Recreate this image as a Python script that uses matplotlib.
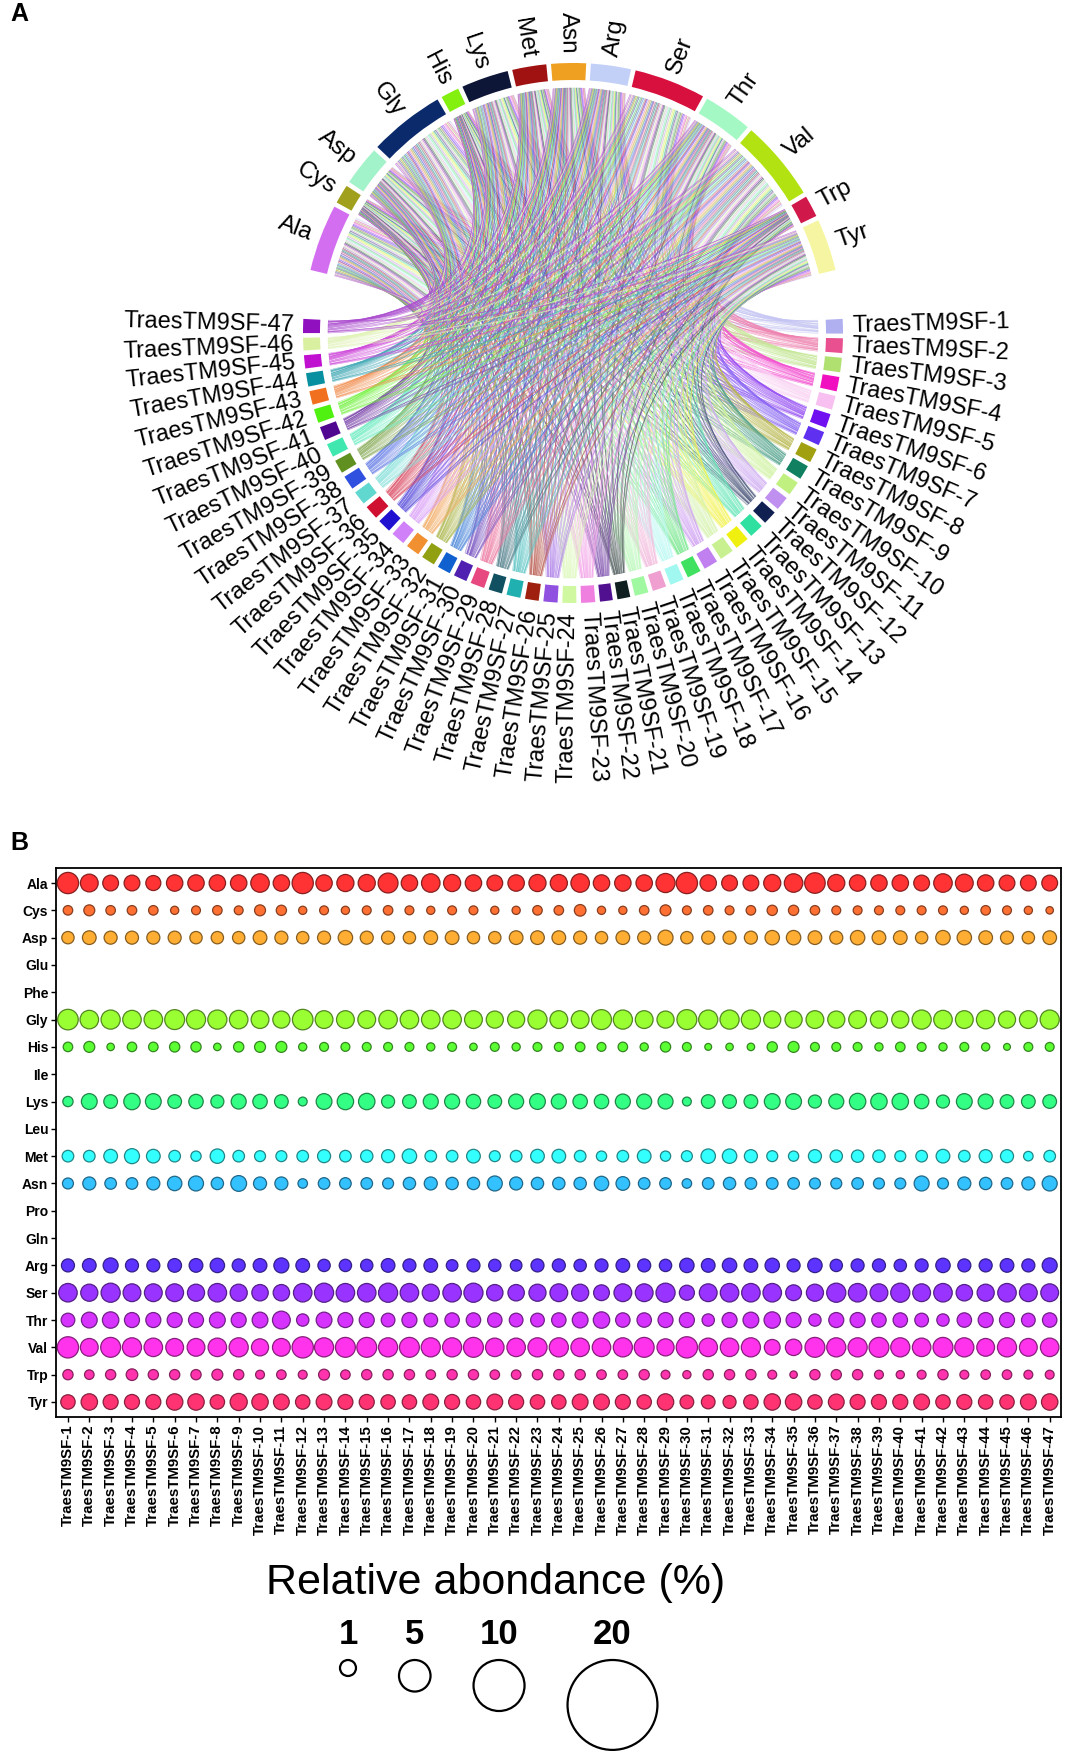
import numpy as np
import matplotlib
matplotlib.use("Agg")
import matplotlib.pyplot as plt
from matplotlib.path import Path
from matplotlib.patches import PathPatch, Wedge, Circle
from matplotlib.collections import PatchCollection
from matplotlib.colors import hsv_to_rgb, to_rgb

plt.rcParams['font.family'] = ['Liberation Sans', 'DejaVu Sans']

# ---------------- data ----------------
genes = [f"TraesTM9SF-{i}" for i in range(1, 48)]
amino_acids = ["Ala", "Cys", "Asp", "Glu", "Phe", "Gly", "His", "Ile", "Lys", "Leu",
               "Met", "Asn", "Pro", "Gln", "Arg", "Ser", "Thr", "Val", "Trp", "Tyr"]

ala = [15.4,10.8,8.5,8.5,7.7,9.2,9.2,9.2,9.2,11.7,9.2,15.4,9.2,10.0,10.0,13.5,9.2,11.7,10.0,9.2,8.5,9.2,
       10.0,10.0,11.7,9.2,9.2,9.2,12.5,15.4,9.2,8.5,8.5,10.0,11.7,14.4,10.0,9.2,9.2,9.2,8.5,11.7,10.8,9.2,8.5,8.5,8.5]
cys = [3.1,4.1,3.1,3.1,3.1,2.3,2.7,3.1,2.7,4.1,3.6,2.3,2.7,2.3,2.7,3.1,2.7,2.3,2.7,2.7,2.3,2.3,
       3.1,3.1,4.6,2.3,2.3,3.1,4.1,2.7,3.1,2.7,3.1,3.6,3.6,3.1,2.7,2.7,2.7,2.7,2.7,2.7,2.3,3.1,2.7,2.3,1.9]
asp = [5.2,6.4,5.8,5.8,5.8,5.8,5.2,5.2,5.2,6.4,5.8,5.2,5.8,7.1,5.8,5.8,5.2,6.4,6.4,5.2,5.2,6.4,
       6.4,6.4,5.8,5.2,6.4,5.8,7.7,5.2,5.8,5.8,5.8,7.1,7.1,6.4,5.8,7.1,6.4,6.4,5.2,7.1,7.1,6.4,5.8,5.2,6.4]
gly = [14.4,11.7,12.5,11.7,11.7,13.5,12.5,12.5,11.7,10.8,10.0,14.4,10.8,10.8,10.8,11.7,11.7,11.7,11.7,10.8,10.0,10.0,
       12.5,10.8,10.8,13.5,12.5,10.8,10.0,13.5,12.5,12.5,12.5,10.0,10.0,10.8,10.0,10.8,10.0,10.0,12.5,11.7,10.8,11.7,10.0,10.8,12.5]
his = [3.1,4.1,1.9,3.1,3.1,3.6,3.6,1.9,3.6,4.1,4.1,2.3,2.7,2.7,2.7,2.7,2.7,2.3,2.7,1.9,2.7,2.3,
       2.7,2.7,3.1,2.7,3.1,2.3,3.6,2.7,1.6,1.9,1.9,3.6,4.1,2.7,2.7,2.7,2.3,3.1,2.7,2.3,2.7,2.3,1.6,2.7,2.7]
lys = [3.6,8.5,6.4,9.2,8.5,6.4,7.1,5.8,7.7,7.1,6.4,2.7,8.5,9.2,9.2,5.8,6.4,7.7,7.7,7.1,6.4,7.7,
       8.5,7.7,7.1,7.1,7.7,7.7,7.7,2.7,6.4,6.4,6.4,8.5,8.5,5.8,7.7,9.2,9.2,9.2,7.1,5.8,8.5,7.7,6.4,6.4,6.4]
met = [4.6,4.6,6.4,7.7,6.4,4.6,3.6,7.1,4.6,4.1,4.1,4.6,5.8,4.6,5.2,5.8,7.1,4.6,4.6,6.4,4.1,4.6,
       6.4,6.4,4.6,3.6,4.6,6.4,3.6,4.1,7.1,7.1,5.8,4.1,3.6,5.8,5.2,5.2,5.2,4.1,4.6,6.4,4.6,5.8,5.8,3.1,4.6]
asn = [4.1,5.8,4.6,4.6,5.8,7.1,7.7,5.2,8.5,5.8,5.8,3.1,4.6,4.6,4.6,4.1,5.2,5.8,5.2,5.2,7.7,5.8,
       5.2,5.2,5.2,7.1,6.4,4.6,4.6,3.1,4.6,5.2,4.6,4.6,4.6,4.1,4.1,4.6,4.1,4.1,7.7,4.1,5.8,5.2,4.6,5.8,7.7]
arg = [5.8,6.4,7.7,5.8,5.8,6.4,6.4,7.1,5.8,6.4,7.7,6.4,5.2,5.2,5.2,6.4,5.8,6.4,4.6,5.8,5.2,4.6,
       5.8,5.8,5.2,5.8,6.4,5.8,5.2,7.1,6.4,7.1,6.4,7.1,5.8,7.1,5.2,5.8,5.8,5.2,5.8,7.1,5.8,5.8,6.4,5.8,7.7]
ser = [11.7,10.0,12.5,10.8,10.8,10.8,10.0,11.7,10.0,9.2,9.2,11.7,12.5,11.7,11.7,12.5,11.7,10.0,11.7,12.5,9.2,9.2,
       10.0,10.8,10.0,8.5,10.8,10.8,12.5,7.7,10.8,11.7,11.7,11.7,8.5,10.0,12.5,11.7,10.8,12.5,10.8,11.7,9.2,10.0,11.7,10.8,10.8]
thr = [6.4,8.5,9.2,7.7,7.7,7.7,7.7,8.5,7.7,8.5,10.8,5.2,8.5,7.7,7.7,6.4,7.7,6.4,7.1,7.1,7.1,6.4,
       6.4,7.1,8.5,9.2,7.1,7.1,7.7,7.7,5.2,7.7,8.5,9.2,7.7,5.2,7.7,7.7,7.1,7.1,6.4,5.2,7.1,7.7,7.7,6.4,7.1]
val = [15.4,10.8,13.5,12.5,11.7,10.8,10.8,11.7,12.5,10.0,10.8,15.4,12.5,13.5,13.5,12.5,13.5,12.5,12.5,13.5,11.7,11.7,
       12.5,12.5,11.7,11.7,12.5,13.5,10.0,15.4,11.7,11.7,12.5,8.5,9.2,13.5,12.5,12.5,13.5,12.5,11.7,13.5,12.5,10.8,12.5,10.8,11.7]
trp = [3.6,3.1,3.6,4.6,3.6,3.6,3.6,4.1,3.6,2.7,3.1,2.7,4.1,3.1,3.6,3.6,3.6,3.1,3.6,3.6,3.1,3.1,
       3.6,3.6,3.6,3.1,3.1,3.6,2.7,2.3,3.6,3.6,3.6,2.7,1.9,3.6,3.6,3.6,2.7,2.3,2.7,3.6,2.7,3.1,3.1,2.7,2.7]
tyr = [7.1,9.2,7.7,7.7,7.7,9.2,9.2,7.1,10.0,9.2,8.5,7.1,8.5,7.7,7.7,7.1,7.1,8.5,7.7,7.1,8.5,7.7,
       7.1,7.1,8.5,8.5,7.7,7.1,9.2,6.4,6.4,5.8,7.1,9.2,9.2,7.1,8.5,7.7,7.7,7.7,8.5,7.1,7.7,7.1,7.1,8.5,9.2]

values = {"Ala": ala, "Cys": cys, "Asp": asp, "Glu": None, "Phe": None, "Gly": gly,
          "His": his, "Ile": None, "Lys": lys, "Leu": None, "Met": met, "Asn": asn,
          "Pro": None, "Gln": None, "Arg": arg, "Ser": ser, "Thr": thr, "Val": val,
          "Trp": trp, "Tyr": tyr}

chord_aa = [a for a in amino_acids if values[a] is not None]
aa_sector_colors = {"Ala": "#D46EF0", "Cys": "#A0A01C", "Asp": "#A2F2CA", "Gly": "#0B2A6C",
                    "His": "#84F010", "Lys": "#0E1638", "Met": "#A01212", "Asn": "#F0A020",
                    "Arg": "#C2D0F8", "Ser": "#D8103E", "Thr": "#A4F8C4", "Val": "#B2E212",
                    "Trp": "#D0184A", "Tyr": "#F6F6A2"}
gene_colors = ["#B0B0F0", "#E85090", "#B0E070", "#F010C0", "#F8C0F0", "#7010F0", "#6030F0",
               "#A0A010", "#108060", "#C0F080", "#C090F0", "#102050", "#30E0A0", "#F0F010",
               "#C8F090", "#C080F0", "#40E060", "#A0F8F0", "#F0A0D0", "#A0F8A0", "#102020",
               "#501090", "#F080E0", "#D0F8A0", "#9050E0", "#A02010", "#20B0B0", "#105060",
               "#E84880", "#5020B0", "#1060D0", "#90A010", "#F09030", "#D080F8", "#2010D0",
               "#D01030", "#60D8D0", "#3050E0", "#609020", "#40E8B0", "#500890", "#50F010",
               "#F07020", "#0890A0", "#C010D0", "#D8F0A0", "#9010C0"]

legend_values = [1, 5, 10, 20]

# ---------------- figure ----------------
W, H = 1075, 1759
fig = plt.figure(figsize=(W / 100, H / 100), dpi=100)
axA = fig.add_axes([0, 0, 1, 1])
axA.set_xlim(0, W)
axA.set_ylim(0, H)
axA.axis('off')

# ---- chord diagram ----
CX, CY = 573, H - 333
R_OUT, R_IN, R_LINK = 270, 253, 245
GAP_BIG, GAP = 10.5, 1.0

M = np.array([values[a] for a in chord_aa])  # 14 x 47
n_aa, n_g = M.shape
total = M.sum()
avail = 360 - 2 * GAP_BIG - (n_aa - 1) * GAP - (n_g - 1) * GAP
k = avail / (2 * total)

aa_span = k * total + (n_aa - 1) * GAP
aa_start = []
a = 90 + aa_span / 2
for s in M.sum(1):
    aa_start.append(a)
    a -= k * s + GAP
aa_end = [st - k * s for st, s in zip(aa_start, M.sum(1))]

g_span = k * total + (n_g - 1) * GAP
g_start = []
g = -90 + g_span / 2
for s in M.sum(0):
    g_start.append(g)
    g -= k * s + GAP
g_end = [st - k * s for st, s in zip(g_start, M.sum(0))]


def pol(theta, r):
    t = np.deg2rad(theta)
    return CX + r * np.cos(t), CY + r * np.sin(t)


# link positions
aa_sub = {}
for i in range(n_aa):
    p = aa_start[i]
    for j in reversed(range(n_g)):
        w = k * M[i, j]
        aa_sub[(i, j)] = (p, p - w)
        p -= w
g_sub = {}
for j in range(n_g):
    p = g_start[j]
    for i in reversed(range(n_aa)):
        w = k * M[i, j]
        g_sub[(i, j)] = (p, p - w)
        p -= w


def arc(t1, t2, r, n=8):
    ts = np.linspace(t1, t2, n)
    return [pol(t, r) for t in ts]


def ctrl(t1, t2):
    p1 = np.array([np.cos(np.deg2rad(t1)), np.sin(np.deg2rad(t1))])
    p2 = np.array([np.cos(np.deg2rad(t2)), np.sin(np.deg2rad(t2))])
    mid = (p1 + p2) / 2 * R_LINK * 0.25
    return (CX + mid[0], CY + mid[1])


patches, fcs, ecs = [], [], []
for j in range(n_g):
    col = np.array(to_rgb(gene_colors[j]))
    light = col * 0.75 + 0.25
    for i in range(n_aa):
        a1, a2 = aa_sub[(i, j)]
        b1, b2 = g_sub[(i, j)]
        verts, codes = [], []
        pa = arc(a1, a2, R_LINK)
        verts += pa
        codes += [Path.MOVETO] + [Path.LINETO] * (len(pa) - 1)
        verts += [ctrl(a2, b1), pol(b1, R_LINK)]
        codes += [Path.CURVE3, Path.CURVE3]
        pb = arc(b1, b2, R_LINK)
        verts += pb[1:]
        codes += [Path.LINETO] * (len(pb) - 1)
        verts += [ctrl(b2, a1), pol(a1, R_LINK)]
        codes += [Path.CURVE3, Path.CURVE3]
        verts += [pol(a1, R_LINK)]
        codes += [Path.CLOSEPOLY]
        patches.append(PathPatch(Path(verts, codes)))
        fcs.append((*light, 0.22))
        ecs.append((*light, 0.6))
pc = PatchCollection(patches, facecolors=fcs, edgecolors=ecs, linewidths=0.4, zorder=1)
axA.add_collection(pc)

# sectors
for i, aa in enumerate(chord_aa):
    axA.add_patch(Wedge((CX, CY), R_OUT, aa_end[i], aa_start[i], width=R_OUT - R_IN,
                        facecolor=aa_sector_colors[aa], edgecolor='none', zorder=2))
for j in range(n_g):
    axA.add_patch(Wedge((CX, CY), R_OUT, g_end[j], g_start[j], width=R_OUT - R_IN,
                        facecolor=gene_colors[j], edgecolor='none', zorder=2))


def sector_label(theta, text, r, fs):
    th = (theta + 180) % 360 - 180
    if -90 <= th <= 90:
        rot, ha = th, 'left'
    else:
        rot, ha = (th - 180 if th > 0 else th + 180), 'right'
    x, y = pol(theta, r)
    axA.text(x, y, text, rotation=rot, rotation_mode='anchor', ha=ha, va='center',
             fontsize=fs, color='black', zorder=3)


for i, aa in enumerate(chord_aa):
    sector_label((aa_start[i] + aa_end[i]) / 2, aa, R_OUT + 9, 17.5)
for j in range(n_g):
    sector_label((g_start[j] + g_end[j]) / 2, genes[j], R_OUT + 9, 17)

axA.text(10, H - 14, "A", fontsize=18, fontweight='bold', ha='left', va='center')
axA.text(10, H - 843, "B", fontsize=18, fontweight='bold', ha='left', va='center')

# ---- bubble plot ----
axB = fig.add_axes([56 / W, (H - 1417) / H, (1061 - 56) / W, (1417 - 868) / H])
x = np.arange(1, n_g + 1)
SIZE_K = 15.2
for r, aa in enumerate(amino_acids):
    v = values[aa]
    if v is None:
        continue
    base = np.array(hsv_to_rgb((r / 20.0, 1.0, 1.0)))
    face = (*base, 0.8)
    edge = (*(base * 0.4 + 0.1), 0.95)
    axB.scatter(x, np.full(n_g, r), s=np.array(v) * SIZE_K, color=[face],
                edgecolors=[edge], linewidths=0.9, zorder=3)
axB.set_xlim(0.44, 47.53)
axB.set_ylim(19.55, -0.55)
axB.set_yticks(range(len(amino_acids)))
axB.set_yticklabels(amino_acids, fontsize=10, fontweight='bold')
axB.set_xticks(x)
axB.set_xticklabels(genes, rotation=90, fontsize=10.8, fontweight='bold')
axB.tick_params(axis='both', direction='out', length=3.5, width=1, pad=2)
for sp in axB.spines.values():
    sp.set_linewidth(1.3)

# ---- size legend ----
axA.text(496, H - 1583, "Relative abondance (%)", fontsize=31, ha='center', va='center')
top = H - 1660
left = 340.0
for lv in legend_values:
    d = 12.1 + 3.89 * lv
    cx = left + d / 2
    axA.add_patch(Circle((cx, top - d / 2), d / 2, fill=False, edgecolor='black', linewidth=1.6))
    axA.text(cx, H - 1634, str(lv), fontsize=25, fontweight='bold', ha='center', va='center')
    left += d + 43

fig.savefig("out.png", dpi=100)
